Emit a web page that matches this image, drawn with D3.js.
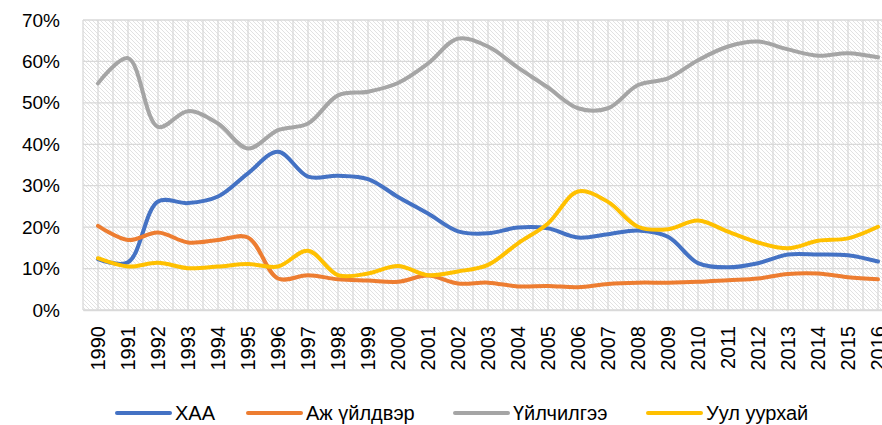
<!DOCTYPE html>
<html>
<head>
<meta charset="utf-8">
<script src="https://cdn.jsdelivr.net/npm/d3@7"></script>
<style>
    body { margin: 0; background: #fff; }
    svg { display: block; font-family: "Liberation Sans", Arial, sans-serif; }
</style>
</head>
<body>
<svg id="chart" width="882" height="425"></svg>
<script>
// years on the category axis
const years = [1990, 1991, 1992, 1993, 1994, 1995, 1996, 1997, 1998, 1999,
               2000, 2001, 2002, 2003, 2004, 2005, 2006, 2007, 2008, 2009,
               2010, 2011, 2012, 2013, 2014, 2015, 2016];

// sector shares of GDP (fractions)
const khaa = [0.123, 0.115, 0.262, 0.258, 0.274, 0.330, 0.382, 0.322, 0.324, 0.316,
              0.273, 0.233, 0.190, 0.185, 0.199, 0.197, 0.175, 0.183, 0.192, 0.177,
              0.113, 0.103, 0.113, 0.134, 0.134, 0.132, 0.117];
const ajUildver = [0.203, 0.169, 0.187, 0.163, 0.169, 0.175, 0.076, 0.084, 0.074, 0.071,
                   0.068, 0.083, 0.064, 0.066, 0.057, 0.058, 0.055, 0.063, 0.066, 0.066,
                   0.068, 0.072, 0.076, 0.087, 0.088, 0.079, 0.074];
const uilchilgee = [0.547, 0.608, 0.442, 0.480, 0.450, 0.390, 0.434, 0.450, 0.518, 0.527,
                    0.548, 0.595, 0.655, 0.636, 0.585, 0.537, 0.487, 0.487, 0.543, 0.559,
                    0.603, 0.636, 0.648, 0.629, 0.614, 0.620, 0.610];
const uulUurkhai = [0.125, 0.105, 0.114, 0.101, 0.105, 0.111, 0.105, 0.143, 0.084, 0.088,
                    0.106, 0.084, 0.093, 0.109, 0.161, 0.209, 0.286, 0.261, 0.201, 0.195,
                    0.216, 0.189, 0.163, 0.149, 0.167, 0.173, 0.201];

const seriesNames = ["ХАА", "Аж үйлдвэр", "Үйлчилгээ", "Уул уурхай"];
const seriesColors = ["#4472c4", "#ed7d31", "#a5a5a5", "#ffc000"];
const yTicks = [0, 0.1, 0.2, 0.3, 0.4, 0.5, 0.6, 0.7];

const series = [khaa, ajUildver, uilchilgee, uulUurkhai].map((vals, i) => ({
    name: seriesNames[i],
    color: seriesColors[i],
    values: vals.map((v, j) => ({ year: years[j], value: v }))
}));

const svg = d3.select("#chart");
const margin = { top: 20, left: 83 };
const plotW = 810, plotH = 290;

const x = d3.scaleBand().domain(years).range([margin.left, margin.left + plotW]);
const y = d3.scaleLinear().domain([0, 0.7]).range([margin.top + plotH, margin.top]);
const cx = d => x(d) + x.bandwidth() / 2;

// hatched plot background
const defs = svg.append("defs");
const pat = defs.append("pattern")
    .attr("id", "hatch")
    .attr("patternUnits", "userSpaceOnUse")
    .attr("width", 4).attr("height", 4);
pat.append("rect").attr("width", 4).attr("height", 4).attr("fill", "#fff");
pat.append("path")
    .attr("d", "M-1,-1 L5,5 M-1,3 L1,5 M3,-1 L5,1")
    .attr("stroke", "#e2e2e2")
    .attr("stroke-width", 1);

svg.append("rect")
    .attr("x", margin.left).attr("y", margin.top)
    .attr("width", plotW).attr("height", plotH)
    .attr("fill", "url(#hatch)");

// gridlines
const grid = svg.append("g").attr("stroke", "#d9d9d9").attr("stroke-width", 1.3);
grid.selectAll("line.h")
    .data(yTicks)
    .join("line")
    .attr("class", "h")
    .attr("x1", margin.left).attr("x2", margin.left + plotW)
    .attr("y1", d => y(d)).attr("y2", d => y(d));

// vertical lines on category boundaries and centres
const vPos = [];
years.forEach(yr => { vPos.push(x(yr)); vPos.push(cx(yr)); });
vPos.push(margin.left + plotW);
grid.selectAll("line.v")
    .data(vPos)
    .join("line")
    .attr("class", "v")
    .attr("x1", d => d).attr("x2", d => d)
    .attr("y1", margin.top).attr("y2", margin.top + plotH);

// y axis labels
svg.append("g")
    .attr("transform", `translate(${margin.left},0)`)
    .call(d3.axisLeft(y).tickValues(yTicks).tickFormat(d3.format(".0%")).tickSize(0).tickPadding(23))
    .call(g => g.select(".domain").remove())
    .selectAll("text")
    .attr("font-size", 19)
    .attr("fill", "#000");

// x axis labels, rotated
const xAxis = svg.append("g")
    .attr("transform", `translate(0,${margin.top + plotH})`)
    .call(d3.axisBottom(x).tickSize(0))
    .call(g => g.select(".domain").attr("stroke", "#d9d9d9").attr("stroke-width", 1.5));
xAxis.selectAll("text")
    .attr("font-size", 20)
    .attr("fill", "#000")
    .attr("text-anchor", "end")
    .attr("dy", "0.35em")
    .attr("transform", "translate(0,16) rotate(-90)")
    .attr("x", 0).attr("y", 0);

// smoothed series lines
const line = d3.line()
    .x(d => cx(d.year))
    .y(d => y(d.value))
    .curve(d3.curveCatmullRom.alpha(0.5));

svg.append("g")
    .selectAll("path")
    .data(series)
    .join("path")
    .attr("d", d => line(d.values))
    .attr("fill", "none")
    .attr("stroke", d => d.color)
    .attr("stroke-width", 4)
    .attr("stroke-linecap", "round");

// legend
const legendX = [117, 248, 455, 648];
const legend = svg.append("g")
    .selectAll("g")
    .data(series)
    .join("g")
    .attr("transform", (d, i) => `translate(${legendX[i]},413)`);
legend.append("line")
    .attr("x1", 0).attr("x2", 53)
    .attr("stroke", d => d.color)
    .attr("stroke-width", 4)
    .attr("stroke-linecap", "round");
legend.append("text")
    .attr("x", 58)
    .attr("dy", "0.35em")
    .attr("font-size", 20)
    .attr("fill", "#000")
    .text(d => d.name);
</script>
</body>
</html>
